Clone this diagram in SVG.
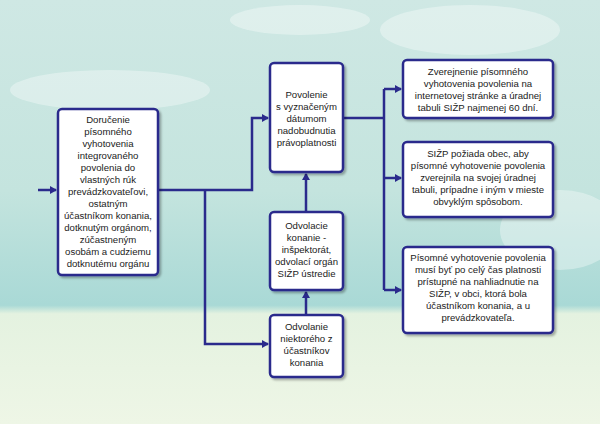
<svg xmlns="http://www.w3.org/2000/svg" width="600" height="424" viewBox="0 0 600 424">
<defs>
<linearGradient id="sky" x1="0" y1="0" x2="0" y2="1">
<stop offset="0" stop-color="#cfe8e4"/>
<stop offset="0.45" stop-color="#c4e4de"/>
<stop offset="0.72" stop-color="#a9d9d6"/>
<stop offset="0.74" stop-color="#e4f2e0"/>
<stop offset="1" stop-color="#eef6e6"/>
</linearGradient>
<marker id="ah" markerWidth="8" markerHeight="8" refX="6" refY="4" orient="auto" markerUnits="userSpaceOnUse"><path d="M0,0 L7,4 L0,8 Z" fill="#2a2a8c"/></marker>
<filter id="sh" x="-10%" y="-10%" width="130%" height="130%"><feDropShadow dx="2" dy="2" stdDeviation="1" flood-color="#000" flood-opacity="0.3"/></filter>
<style>
.box{fill:#fff;stroke:#2a2a8c;stroke-width:2.5;filter:url(#sh)}
.t{font-family:"Liberation Sans",Arial,sans-serif;font-size:9.6px;fill:#222;text-anchor:middle}
.c{fill:none;stroke:#2a2a8c;stroke-width:2.5}
</style>
</defs>
<rect width="600" height="424" fill="url(#sky)"/>
<g fill="#ffffff" opacity="0.35">
<ellipse cx="470" cy="30" rx="90" ry="25"/><ellipse cx="110" cy="90" rx="100" ry="20"/><ellipse cx="560" cy="230" rx="60" ry="40"/><ellipse cx="300" cy="20" rx="70" ry="15"/>
</g>
<g id="connectors">
<path class="c" d="M38,190 H56" marker-end="url(#ah)"/>
<path class="c" d="M158,190 H252 V118 H268" marker-end="url(#ah)"/>
<path class="c" d="M205,190 V344 H268" marker-end="url(#ah)"/>
<path class="c" d="M306,315 V292" marker-end="url(#ah)"/>
<path class="c" d="M306,212 V174" marker-end="url(#ah)"/>
<path class="c" d="M343,118 H384"/>
<path class="c" d="M384,89 V290"/>
<path class="c" d="M384,89 H401" marker-end="url(#ah)"/>
<path class="c" d="M384,178 H401" marker-end="url(#ah)"/>
<path class="c" d="M384,290 H401" marker-end="url(#ah)"/>
</g>
<g id="n1"><rect class="box" x="58" y="109" width="100" height="166" rx="4"/>
<text class="t" y="123"><tspan x="108">Doručenie</tspan><tspan x="108" dy="12">písomného</tspan><tspan x="108" dy="12">vyhotovenia</tspan><tspan x="108" dy="12">integrovaného</tspan><tspan x="108" dy="12">povolenia do</tspan><tspan x="108" dy="12">vlastných rúk</tspan><tspan x="108" dy="12">prevádzkovateľovi,</tspan><tspan x="108" dy="12">ostatným</tspan><tspan x="108" dy="12">účastníkom konania,</tspan><tspan x="108" dy="12">dotknutým orgánom,</tspan><tspan x="108" dy="12">zúčastneným</tspan><tspan x="108" dy="12">osobám a cudziemu</tspan><tspan x="108" dy="12">dotknutému orgánu</tspan></text></g>
<g id="n2"><rect class="box" x="270" y="63" width="73" height="109" rx="4"/>
<text class="t" y="98"><tspan x="306.5">Povolenie</tspan><tspan x="306.5" dy="12">s vyznačeným</tspan><tspan x="306.5" dy="12">dátumom</tspan><tspan x="306.5" dy="12">nadobudnutia</tspan><tspan x="306.5" dy="12">právoplatnosti</tspan></text></g>
<g id="n3"><rect class="box" x="270" y="212" width="73" height="78" rx="4"/>
<text class="t" y="229"><tspan x="306.5">Odvolacie</tspan><tspan x="306.5" dy="12">konanie -</tspan><tspan x="306.5" dy="12">inšpektorát,</tspan><tspan x="306.5" dy="12">odvolací orgán</tspan><tspan x="306.5" dy="12">SIŽP ústredie</tspan></text></g>
<g id="n4"><rect class="box" x="270" y="315" width="73" height="62" rx="4"/>
<text class="t" y="330"><tspan x="306.5">Odvolanie</tspan><tspan x="306.5" dy="12">niektorého z</tspan><tspan x="306.5" dy="12">účastníkov</tspan><tspan x="306.5" dy="12">konania</tspan></text></g>
<g id="n5"><rect class="box" x="403" y="60" width="150" height="58" rx="4"/>
<text class="t" y="75"><tspan x="478">Zverejnenie písomného</tspan><tspan x="478" dy="12">vyhotovenia povolenia na</tspan><tspan x="478" dy="12">internetovej stránke a úradnej</tspan><tspan x="478" dy="12">tabuli SIŽP najmenej 60 dní.</tspan></text></g>
<g id="n6"><rect class="box" x="403" y="142" width="150" height="75" rx="4"/>
<text class="t" y="157"><tspan x="478">SIŽP požiada obec, aby</tspan><tspan x="478" dy="12">písomné vyhotovenie povolenia</tspan><tspan x="478" dy="12">zverejnila na svojej úradnej</tspan><tspan x="478" dy="12">tabuli, prípadne i iným v mieste</tspan><tspan x="478" dy="12">obvyklým spôsobom.</tspan></text></g>
<g id="n7"><rect class="box" x="403" y="247" width="150" height="86" rx="4"/>
<text class="t" y="261"><tspan x="478">Písomné vyhotovenie povolenia</tspan><tspan x="478" dy="12">musí byť po celý čas platnosti</tspan><tspan x="478" dy="12">prístupné na nahliadnutie na</tspan><tspan x="478" dy="12">SIŽP, v obci, ktorá bola</tspan><tspan x="478" dy="12">účastníkom konania, a u</tspan><tspan x="478" dy="12">prevádzkovateľa.</tspan></text></g>
</svg>
